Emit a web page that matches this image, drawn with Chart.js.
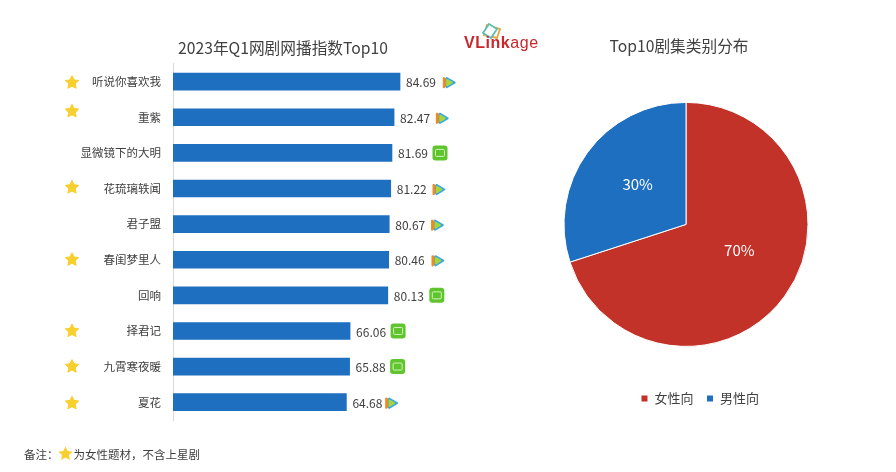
<!DOCTYPE html>
<html><head><meta charset="utf-8">
<script src="https://cdn.jsdelivr.net/npm/chart.js@4/dist/chart.umd.min.js"></script>
<style>
html,body{margin:0;padding:0;background:#fff;width:896px;height:472px;overflow:hidden;font-family:"Noto Sans CJK SC","Noto Sans",sans-serif;color:#404040}
canvas{position:absolute;top:0}
#bar{left:0}
#logo{position:absolute;left:464px;top:34px;font:700 16px/18px "Liberation Sans",sans-serif;color:#c8282c;letter-spacing:.55px;white-space:nowrap}
#logo span{font-weight:400}
#mark{position:absolute;left:480px;top:22px}
#note{position:absolute;left:24px;top:445px;font-size:11.5px;line-height:16px;white-space:nowrap;display:flex;align-items:center}
#note svg{margin:0 0 0 -2px}
</style></head><body>
<div style="position:absolute;left:0;top:0;width:566px;height:472px"><canvas id="bar"></canvas></div>
<div style="position:absolute;left:546px;top:0;width:266px;height:472px"><canvas id="pie" style="left:0"></canvas></div>
<svg id="mark" width="24" height="20" viewBox="0 0 24 20"><path d="M7 3l13 4-3 9-13-3z" fill="none" stroke="#e8a33d" stroke-width="1.800"/><path d="M9 2l8 5-6 9-8-5z" fill="#fff" stroke="#5dbfb0" stroke-width="1.800"/></svg>
<div id="logo">VLink<span>age</span></div>
<div id="note">备注：<svg width="17" height="17" viewBox="0 0 24 24"><path d="M12 2l3 6.6 7.2.8-5.4 4.8 1.5 7.1L12 17.7 5.700 21.300l1.500-7.100L1.800 9.400 9 8.600z" fill="#f7cf2e"/></svg>为女性题材，不含上星剧</div>
<script>
const categories = ["听说你喜欢我","重紫","显微镜下的大明","花琉璃轶闻","君子盟","春闺梦里人","回响","择君记","九霄寒夜暖","夏花"];
const indexValues = [84.69,82.47,81.69,81.22,80.67,80.46,80.13,66.06,65.88,64.68];
const platforms = ["tencent","tencent","iqiyi","tencent","tencent","tencent","iqiyi","iqiyi","iqiyi","tencent"];
const femaleFlags = [1,1,0,1,0,1,0,1,1,1];
const pieLabels = ["女性向","男性向"];
const pieValues = [70,30];
const barTitle = "2023年Q1网剧网播指数Top10";
const pieTitle = "Top10剧集类别分布";

const FONT = '"Noto Sans CJK SC","Noto Sans",sans-serif';
const TXT = "#404040", BLUE = "#1f6fc0", RED = "#c23228";
Chart.defaults.font.family = FONT;
Chart.defaults.animation = false;
Chart.defaults.responsive = true;
Chart.defaults.maintainAspectRatio = false;

function star(c,x,y,r){
  c.save();c.beginPath();
  for(let i=0;i<10;i++){
    const a=-Math.PI/2+i*Math.PI/5, q=i%2?r*0.5:r;
    c.lineTo(x+q*Math.cos(a),y+q*Math.sin(a));
  }
  c.closePath();c.fillStyle="#f7cf2e";c.lineJoin="round";c.strokeStyle="#f7cf2e";c.lineWidth=1;c.fill();c.stroke();c.restore();
}
function tencent(c,x,y){
  const tri=(dx,col,s)=>{c.beginPath();c.moveTo(x+dx-s*0.7,y-s);c.lineTo(x+dx+s,y);c.lineTo(x+dx-s*0.7,y+s);c.closePath();c.fillStyle=col;c.lineJoin="round";c.strokeStyle=col;c.lineWidth=2;c.fill();c.stroke();};
  c.save();
  tri(-2,"#f08a24",4.6);
  tri(1,"#35a9e8",4.6);
  tri(0,"#a6d63a",2.6);
  c.restore();
}
function iqiyi(c,x,y){
  c.save();
  c.beginPath();c.roundRect(x-7.5,y-7.5,15,15,3);c.fillStyle="#5fc52e";c.fill();
  c.beginPath();c.roundRect(x-4.500,y-3.500,9,7,1);c.strokeStyle="#d6f2b8";c.lineWidth=1;c.stroke();
  c.restore();
}
const starNudge = [1,-6,0,-1,0,0,0,0,0,1];
const iconGap = [49,48,48,48,48,49,49,48,48,45];
const barMarks = {
  id:"barMarks",
  afterDatasetsDraw(ch){
    const c=ch.ctx,x=ch.scales.x,y=ch.scales.y;
    indexValues.forEach((v,i)=>{
      const px=x.getPixelForValue(v),py=y.getPixelForValue(i);
      c.save();c.fillStyle=TXT;c.font="12px "+FONT;c.textAlign="left";c.textBaseline="middle";
      c.fillText(v.toFixed(2),px+6,py+1);c.restore();
      if(platforms[i]==="tencent")tencent(c,px+iconGap[i],py+1);else iqiyi(c,px+iconGap[i],py);
      if(femaleFlags[i])star(c,72,py+starNudge[i],7);
    });
  }
};
new Chart(document.getElementById("bar"),{
  type:"bar",
  data:{labels:categories,datasets:[{data:indexValues,backgroundColor:BLUE,borderWidth:0,barThickness:17}]},
  options:{
    indexAxis:"y",
    layout:{padding:{left:0,right:0,top:0,bottom:52}},
    plugins:{legend:{display:false},tooltip:{enabled:false},
      title:{display:true,text:barTitle,color:TXT,font:{size:15.7,weight:"normal",family:FONT},padding:{top:39,bottom:6}}},
    scales:{
      x:{display:false,min:0,max:146.6},
      y:{afterFit(s){s.width=173;},
        grid:{display:false,drawTicks:false},border:{color:"#d9d9d9"},
        ticks:{color:TXT,font:{size:11.5,family:FONT},padding:12}}
    }
  },
  plugins:[barMarks]
});
const labelNudge = [[4,-10],[1,-4]];
const pieText = {
  id:"pieText",
  afterDatasetsDraw(ch){
    const c=ch.ctx,meta=ch.getDatasetMeta(0);
    meta.data.forEach((a,i)=>{
      const p=a.tooltipPosition();
      c.save();c.fillStyle="#fff";c.font="15px "+FONT;c.textAlign="center";c.textBaseline="middle";
      c.fillText(pieValues[i]+"%",p.x+labelNudge[i][0],p.y+labelNudge[i][1]);c.restore();
    });
  }
};
const blockShift = {id:"blockShift",afterLayout(ch){
  const l=ch.legend;l.left+=14;l.right+=14;
  const t=ch.titleBlock;t.left-=7;t.right-=7;
}};
new Chart(document.getElementById("pie"),{
  type:"pie",
  data:{labels:pieLabels,datasets:[{data:pieValues,backgroundColor:[RED,BLUE],borderColor:"#fff",borderWidth:1}]},
  options:{
    layout:{padding:{left:17.5,right:3.5,top:0,bottom:57}},
    plugins:{tooltip:{enabled:false},
      title:{display:true,text:pieTitle,color:TXT,font:{size:15.7,weight:"normal",family:FONT},padding:{top:37,bottom:14}},
      legend:{position:"bottom",labels:{color:TXT,font:{size:13,family:FONT},usePointStyle:true,pointStyle:"rect",boxWidth:7,boxHeight:7,padding:13}}
    }
  },
  plugins:[pieText,blockShift]
});
</script></body></html>
